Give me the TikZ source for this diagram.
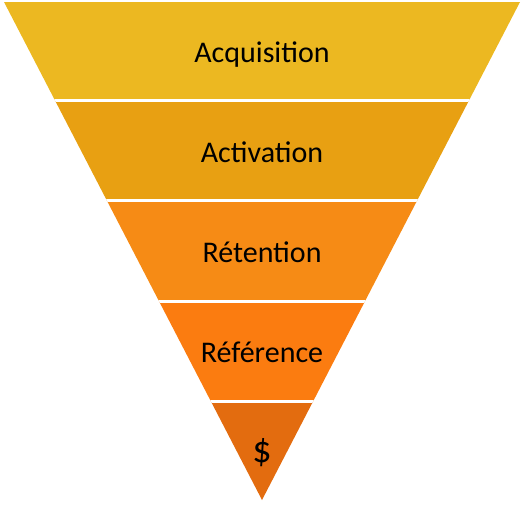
\documentclass[tikz,border=0pt]{standalone}
\usepackage{fontspec}
\setmainfont{Carlito}
\definecolor{bandA}{HTML}{ECB821}
\definecolor{bandB}{HTML}{E8A012}
\definecolor{bandC}{HTML}{F68B15}
\definecolor{bandD}{HTML}{FB7C10}
\definecolor{bandE}{HTML}{E36C0F}
\tikzset{
  lbl/.style={anchor=base, inner sep=0pt, font=\fontsize{30}{34}\selectfont, text=black},
  gap/.style={draw=white, line width=3pt}
}
\begin{document}
\begin{tikzpicture}[x=1pt,y=-1pt]
\useasboundingbox (0,0) rectangle (524,504);
\begin{scope}
  \clip (4,2) -- (520,2) -- (262,500) -- cycle;
  \fill[bandA] (0,0) rectangle (524,100.5);
  \fill[bandB] (0,100.5) rectangle (524,200.5);
  \fill[bandC] (0,200.5) rectangle (524,301.5);
  \fill[bandD] (0,301.5) rectangle (524,401.5);
  \fill[bandE] (0,401.5) rectangle (524,504);
  \draw[gap] (0,100.5) -- (524,100.5);
  \draw[gap] (0,200.5) -- (524,200.5);
  \draw[gap] (0,301.5) -- (524,301.5);
  \draw[gap] (0,401.5) -- (524,401.5);
\end{scope}
\node[lbl] (acq) at (262,62) {Acquisition};
\node[lbl] (act) at (262,162) {Activation};
\node[lbl] (ret) at (262,262) {Rétention};
\node[lbl] (ref) at (262,362) {Référence};
\node[lbl, font=\fontsize{38}{42}\selectfont] (usd) at (262,462) {\$};
\end{tikzpicture}
\end{document}
